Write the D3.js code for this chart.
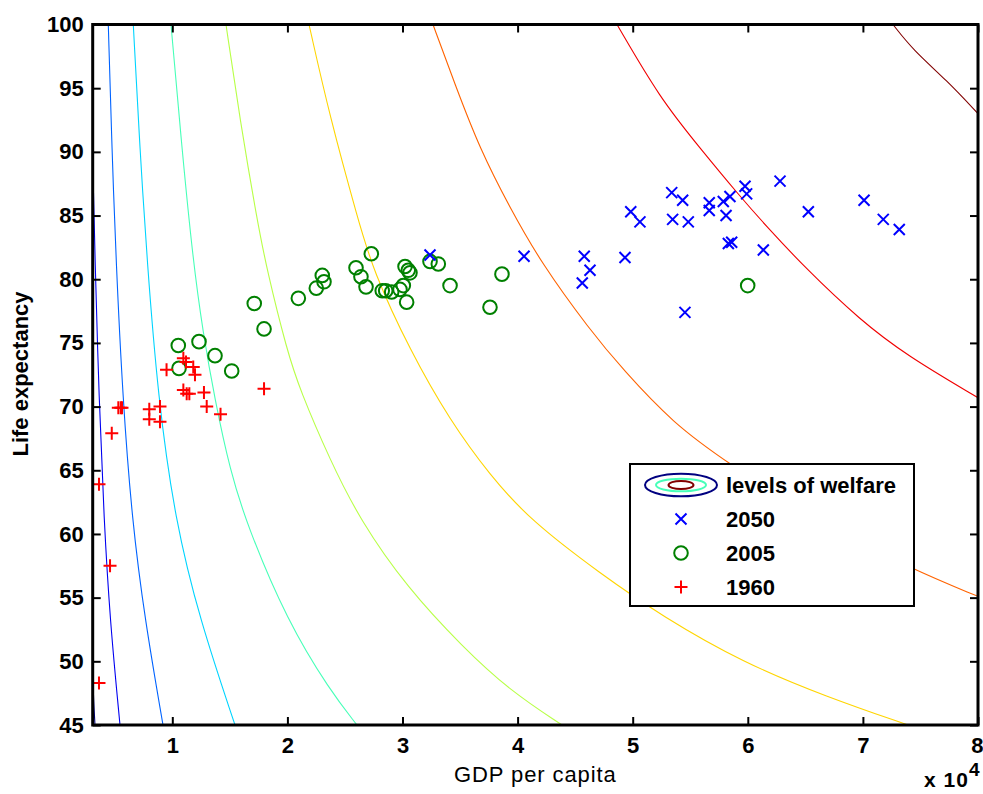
<!DOCTYPE html>
<html>
<head>
<meta charset="utf-8">
<script src="https://cdn.jsdelivr.net/npm/d3@7"></script>
<style>
  body { margin: 0; background: #fff; }
  svg { display: block; font-family: "Liberation Sans", Arial, Helvetica, sans-serif; }
</style>
</head>
<body>
<svg id="chart" width="983" height="794"></svg>
<script>
// welfare contour lines, [GDP per capita, life expectancy] (lowest level first)
const level1 = [[2700, 62], [2936, 54.8], [3110, 47.7], [3284, 45]]
const level2 = [[2850, 100], [3067, 90.1], [3284, 81.5], [3631, 70.7], [4066, 61.1], [4587, 53.2], [5456, 45]]
const level3 = [[4439, 100], [4761, 90.1], [5108, 81.5], [5690, 70.7], [6498, 61.1], [7628, 53.2], [9192, 45]]
const level4 = [[6611, 100], [7193, 90.1], [7802, 81.5], [8757, 70.7], [10234, 61.1], [12406, 53.2], [15447, 45]]
const level5 = [[9887, 100], [10842, 90.2], [11798, 81.5], [12667, 75.8], [13709, 70.5], [15013, 65.0],
                [16490, 60.7], [19965, 53.2], [23701, 47.7], [26046, 45]]
const level6 = [[14665, 100], [15881, 92.5], [17358, 84.7], [18227, 80.7], [19965, 74.4], [21094, 71.3],
                [23701, 65.8], [26307, 61.1], [30390, 55.8], [35256, 51.1], [39339, 47.7], [43857, 45]]
const level7 = [[21876, 100], [23701, 92.7], [26133, 84.7], [27437, 80.7], [30651, 74.4], [34126, 68.9],
                [37601, 64.6], [41077, 61.1], [47158, 56.9], [52632, 53.5], [59582, 49.9], [66880, 47.2], [73917, 45]]
const level8 = [[32649, 100], [34561, 95.3], [36733, 90.2], [39339, 85.6], [42032, 81.3], [46289, 76.0],
                [49157, 72.9], [53501, 68.7], [58192, 65.6], [66272, 60.9], [74352, 57.2], [80000, 55.1]]
const level9 = [[48635, 100], [52371, 94.2], [55846, 90.3], [59321, 86.5], [61580, 84.2], [64968, 80.9],
                [69747, 76.8], [73830, 74.0], [80000, 70.7]]
const level10 = [[72614, 100], [74352, 98.0], [77306, 95.6], [80000, 93.0]]
const welfareLines = [level1, level2, level3, level4, level5, level6, level7, level8, level9, level10]

// countries
const gdp1960 = [3630, 4590, 3630, 4740, 5310, 5520, 5630, 8000, 8000, 8930, 8930, 9500, 10960, 11190,
                 11820, 11970, 10960, 11250, 11480, 12750, 12990, 14190, 17970]
const life1960 = [48.3, 57.5, 63.9, 67.9, 69.9, 69.9, 69.9, 69.8, 69.0, 70.0, 68.8, 72.9, 73.8, 73.5,
                  73.1, 72.5, 71.3, 71.0, 71.0, 71.1, 70.0, 69.4, 71.4]
const gdp2005 = [10520, 10580, 12320, 13710, 15160, 17120, 17970, 20950, 22510, 23030, 23180, 25960, 26390,
                 26830, 27290, 28240, 28540, 29060, 29780, 30070, 30220, 30500, 30650, 30360, 32390, 33110,
                 34130, 37600, 38640, 59990]
const life2005 = [74.8, 73.0, 75.1, 74.0, 72.8, 78.1, 76.1, 78.5, 79.3, 80.3, 79.8, 80.9, 80.2,
                  79.4, 82.0, 79.1, 79.1, 79.0, 79.2, 79.5, 81.0, 80.7, 80.5, 78.2, 81.4, 81.2,
                  79.5, 77.8, 80.4, 79.5]
const gdp2050 = [32390, 40560, 45790, 46290, 45620, 49330, 49830, 50630, 53390, 54340, 53470, 54830, 56650,
                 56650, 57870, 58450, 58110, 59760, 59900, 62800, 65260, 70100, 71770, 73160, 58310, 58600,
                 61350, 54540]
const life2050 = [81.9, 81.8, 81.8, 80.7, 79.7, 81.7, 85.3, 84.5, 86.8, 86.2, 84.7, 84.5, 86.0,
                  85.4, 86.1, 86.5, 85.0, 87.3, 86.7, 87.7, 85.3, 86.2, 84.7, 83.9, 82.8, 82.9,
                  82.3, 77.4]

const xTicks = [10000, 20000, 30000, 40000, 50000, 60000, 70000, 80000]
const yTicks = [45, 50, 55, 60, 65, 70, 75, 80, 85, 90, 95, 100]
const legendLabels = ['levels of welfare', '2050', '2005', '1960']

// matlab jet colormap
function jet(t) {
    const c = v => Math.round(255 * Math.max(0, Math.min(1, v)))
    return `rgb(${c(1.5 - Math.abs(4 * t - 3))},${c(1.5 - Math.abs(4 * t - 2))},${c(1.5 - Math.abs(4 * t - 1))})`
}

const svg = d3.select('#chart')
const box = {left: 92.7, right: 978, top: 24.5, bottom: 725}
const x = d3.scaleLinear().domain([3084, 80000]).range([box.left, box.right])
const y = d3.scaleLinear().domain([45, 100]).range([box.bottom, box.top])

svg.append('defs').append('clipPath').attr('id', 'plot')
    .append('rect')
    .attr('x', box.left).attr('y', box.top)
    .attr('width', box.right - box.left).attr('height', box.bottom - box.top)

// contours
const line = d3.line().x(d => x(d[0])).y(d => y(d[1])).curve(d3.curveBasis)
svg.append('g')
    .attr('clip-path', 'url(#plot)')
    .selectAll('path')
    .data(welfareLines)
    .join('path')
    .attr('d', line)
    .attr('fill', 'none')
    .attr('stroke', (d, i) => jet(i / (welfareLines.length - 1)))
    .attr('stroke-width', 1.1)

// markers
const plusPath = 'M-6.5,0H6.5M0,-6.5V6.5'
const crossPath = 'M-5.5,-5.5L5.5,5.5M-5.5,5.5L5.5,-5.5'

const pts = svg.append('g')
pts.selectAll('.c2005')
    .data(d3.zip(gdp2005, life2005))
    .join('circle')
    .attr('class', 'c2005')
    .attr('cx', d => x(d[0])).attr('cy', d => y(d[1]))
    .attr('r', 6.8)
    .attr('fill', 'none').attr('stroke', '#008000').attr('stroke-width', 2)
pts.selectAll('.c2050')
    .data(d3.zip(gdp2050, life2050))
    .join('path')
    .attr('class', 'c2050')
    .attr('transform', d => `translate(${x(d[0])},${y(d[1])})`)
    .attr('d', crossPath)
    .attr('fill', 'none').attr('stroke', '#0000ff').attr('stroke-width', 2)
pts.selectAll('.c1960')
    .data(d3.zip(gdp1960, life1960))
    .join('path')
    .attr('class', 'c1960')
    .attr('transform', d => `translate(${x(d[0])},${y(d[1])})`)
    .attr('d', plusPath)
    .attr('fill', 'none').attr('stroke', '#ff0000').attr('stroke-width', 2)

// axes, ticks inside like matlab
const fmt = d => d / 10000
function styleAxis(g) {
    g.select('.domain').remove()
    g.selectAll('.tick line').attr('stroke', '#000').attr('stroke-width', 2)
    g.selectAll('.tick text')
        .attr('fill', '#000')
        .style('font-size', '22px')
        .style('font-weight', 'bold')
}
const xAxis = svg.append('g').attr('transform', `translate(0,${box.bottom})`)
    .call(d3.axisBottom(x).tickValues(xTicks).tickFormat(fmt).tickSize(-8).tickPadding(12))
    .call(styleAxis)
// last label sits on the right edge, keep it inside the page
xAxis.selectAll('.tick text').filter(d => d === 80000)
    .attr('text-anchor', 'end').attr('x', 5)
svg.append('g').attr('transform', `translate(0,${box.top})`)
    .call(d3.axisTop(x).tickValues(xTicks).tickFormat('').tickSize(-8))
    .call(styleAxis)
svg.append('g').attr('transform', `translate(${box.left},0)`)
    .call(d3.axisLeft(y).tickValues(yTicks).tickSize(-8).tickPadding(9))
    .call(styleAxis)
svg.append('g').attr('transform', `translate(${box.right},0)`)
    .call(d3.axisRight(y).tickValues(yTicks).tickFormat('').tickSize(-8))
    .call(styleAxis)

svg.append('rect')
    .attr('x', box.left).attr('y', box.top)
    .attr('width', box.right - box.left).attr('height', box.bottom - box.top)
    .attr('fill', 'none').attr('stroke', '#000').attr('stroke-width', 3)

// labels
svg.append('text')
    .attr('x', (box.left + box.right) / 2).attr('y', 782)
    .attr('text-anchor', 'middle')
    .style('font-size', '22px').style('letter-spacing', '0.9px')
    .text('GDP per capita')
svg.append('text')
    .attr('transform', 'translate(28,374) rotate(-90)')
    .attr('text-anchor', 'middle')
    .style('font-size', '22px').style('font-weight', 'bold')
    .text('Life expectancy')
svg.append('text').attr('x', 924).attr('y', 787)
    .style('font-size', '21px').style('font-weight', 'bold').style('letter-spacing', '1px')
    .text('x 10')
svg.append('text').attr('x', 969).attr('y', 776)
    .style('font-size', '19px').style('font-weight', 'bold')
    .text('4')

// legend
const lg = svg.append('g').attr('transform', 'translate(630,464)')
lg.append('rect')
    .attr('width', 284).attr('height', 142)
    .attr('fill', '#fff').attr('stroke', '#000').attr('stroke-width', 2)
const ellipses = [[36, 11.3, 0], [25, 6.3, 4 / 9], [12.5, 4, 1]]
lg.selectAll('ellipse')
    .data(ellipses)
    .join('ellipse')
    .attr('cx', 51).attr('cy', 21)
    .attr('rx', d => d[0]).attr('ry', d => d[1])
    .attr('fill', 'none').attr('stroke', d => jet(d[2])).attr('stroke-width', 2)
lg.append('path').attr('transform', 'translate(51,55)').attr('d', crossPath)
    .attr('fill', 'none').attr('stroke', '#0000ff').attr('stroke-width', 2)
lg.append('circle').attr('cx', 51).attr('cy', 89).attr('r', 6.8)
    .attr('fill', 'none').attr('stroke', '#008000').attr('stroke-width', 2)
lg.append('path').attr('transform', 'translate(51,123)').attr('d', plusPath)
    .attr('fill', 'none').attr('stroke', '#ff0000').attr('stroke-width', 2)
lg.selectAll('text.lab')
    .data(legendLabels)
    .join('text')
    .attr('class', 'lab')
    .attr('x', 96).attr('y', (d, i) => 29 + i * 34)
    .style('font-size', '22px').style('font-weight', 'bold')
    .text(d => d)
</script>
</body>
</html>
